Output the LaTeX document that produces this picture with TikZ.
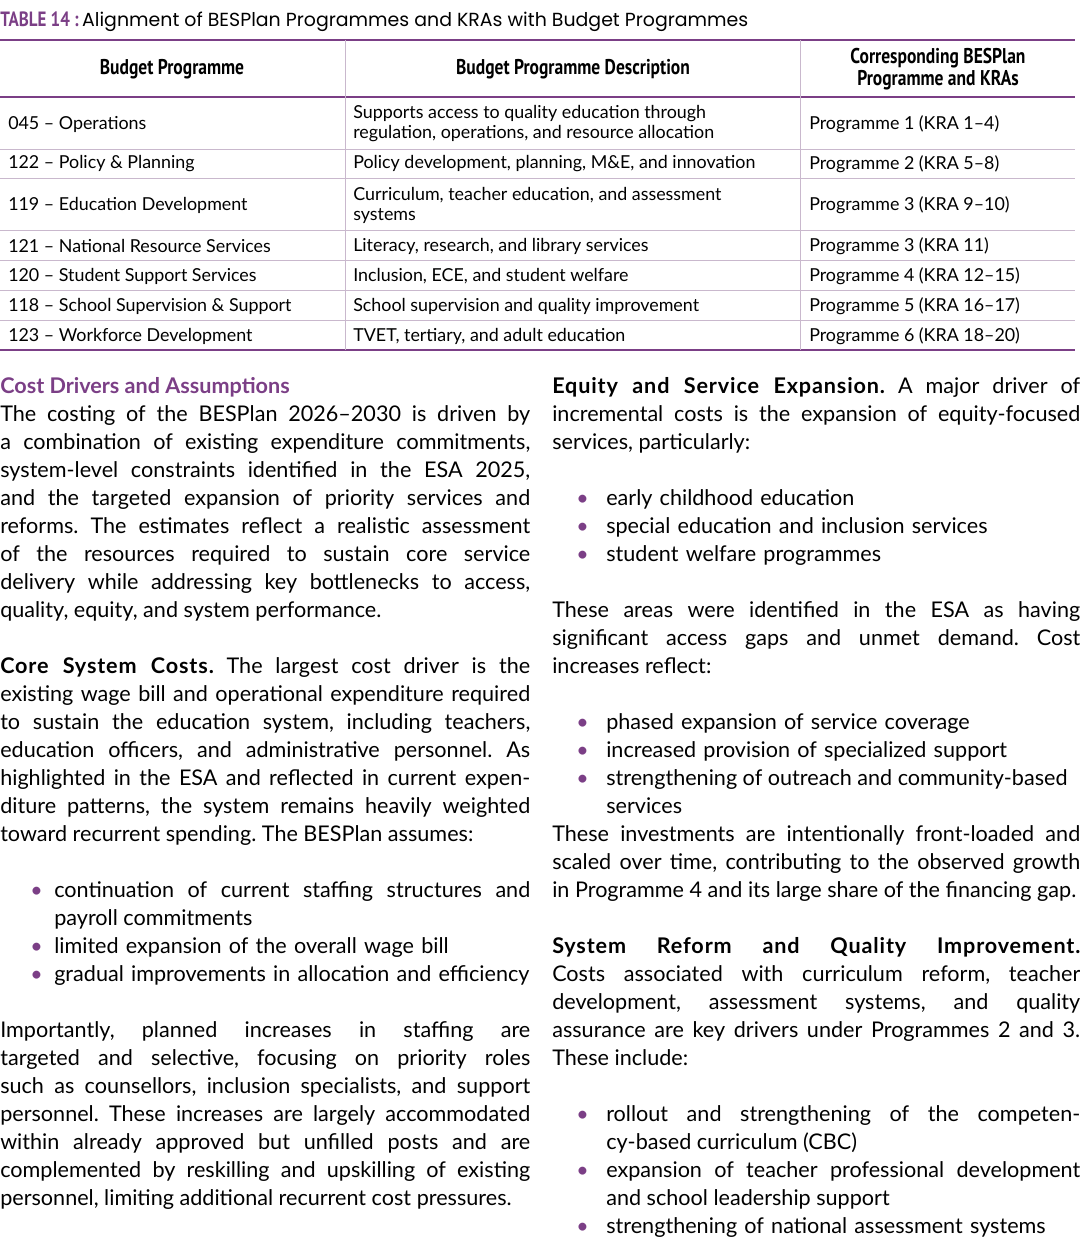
\documentclass[tikz,border=0pt]{standalone}
\usepackage{fontspec}
\setmainfont{Lato}
\newfontfamily\popp{Poppins}
\newfontfamily\cond[FakeStretch=0.82]{PT Sans}
\newfontfamily\wideb[LetterSpace=4]{Lato}
\definecolor{purp}{HTML}{7B3F86}
\definecolor{rule}{HTML}{C9B8CD}
\frenchspacing
\begin{document}
\begin{tikzpicture}[x=0.75pt,y=-0.75pt,
  cell/.style={anchor=west,inner sep=0pt,font=\frenchspacing\fontsize{13.4}{15}\selectfont,align=left},
  hcell/.style={anchor=center,inner sep=0pt,font=\cond\bfseries\fontsize{16}{17}\selectfont,align=center},
  para/.style={anchor=north west,inner sep=0pt,align=justify,font=\frenchspacing\fontsize{16.2}{21}\selectfont},
  bul/.style={anchor=north west,inner sep=0pt,font=\fontsize{16}{21}\selectfont,text=purp},
  ]
\useasboundingbox (0,0) rectangle (1080,1248);
\node[anchor=west,inner sep=0pt] (title) at (0,22) {{\cond\bfseries\fontsize{15.5}{16}\selectfont\color{purp}TABLE 14 :} {\popp\fontsize{14.2}{16}\selectfont Alignment of BESPlan Programmes and KRAs with Budget Programmes}};
% table rules
\draw[purp,line width=2.2pt] (0,40) -- (1075,40);
\draw[purp,line width=1.2pt] (0,97) -- (1075,97);
\foreach \y in {149,178,230,260,290,320}{\draw[rule,line width=0.7pt] (0,\y) -- (1075,\y);}
\draw[purp,line width=2.2pt] (0,350) -- (1075,350);
\draw[rule,line width=0.7pt] (345,40) -- (345,350);
\draw[rule,line width=0.7pt] (800,40) -- (800,350);
\node[hcell] (h1) at (172,69) {Budget Programme};
\node[hcell] (h2) at (573,69) {Budget Programme Description};
\node[hcell] (h3) at (938,69) {Corresponding BESPlan\\Programme and KRAs};
\node[cell] (a1) at (8,124) {045 – Operations};
\node[cell] (b1) at (353,124) {Supports access to quality education through\\regulation, operations, and resource allocation};
\node[cell] (c1) at (809,124) {Programme 1 (KRA 1–4)};
\node[cell] (a2) at (8,164) {122 – Policy \& Planning};
\node[cell] (b2) at (353,164) {Policy development, planning, M\&E, and innovation};
\node[cell] (c2) at (809,164) {Programme 2 (KRA 5–8)};
\node[cell] (a3) at (8,205) {119 – Education Development};
\node[cell] (b3) at (353,205) {Curriculum, teacher education, and assessment\\systems};
\node[cell] (c3) at (809,205) {Programme 3 (KRA 9–10)};
\node[cell] (a4) at (8,246) {121 – National Resource Services};
\node[cell] (b4) at (353,246) {Literacy, research, and library services};
\node[cell] (c4) at (809,246) {Programme 3 (KRA 11)};
\node[cell] (a5) at (8,276) {120 – Student Support Services};
\node[cell] (b5) at (353,276) {Inclusion, ECE, and student welfare};
\node[cell] (c5) at (809,276) {Programme 4 (KRA 12–15)};
\node[cell] (a6) at (8,306) {118 – School Supervision \& Support};
\node[cell] (b6) at (353,306) {School supervision and quality improvement};
\node[cell] (c6) at (809,306) {Programme 5 (KRA 16–17)};
\node[cell] (a7) at (8,336) {123 – Workforce Development};
\node[cell] (b7) at (353,336) {TVET, tertiary, and adult education};
\node[cell] (c7) at (809,336) {Programme 6 (KRA 18–20)};
% left column
\node[para,text width=530*0.75pt] (p1) at (0,374) {\strut{\bfseries\color{purp}Cost Drivers and Assumptions}\newline
The costing of the BESPlan 2026–2030 is driven by\linebreak a combination of existing expenditure commitments,\linebreak system-level constraints identified in the ESA 2025,\linebreak and the targeted expansion of priority services and\linebreak reforms. The estimates reflect a realistic assessment\linebreak of the resources required to sustain core service\linebreak delivery while addressing key bottlenecks to access,\linebreak quality, equity, and system performance.};
\node[para,text width=530*0.75pt] (p2) at (0,654) {\strut{\wideb\bfseries Core System Costs.} The largest cost driver is the\linebreak existing wage bill and operational expenditure required\linebreak to sustain the education system, including teachers,\linebreak education officers, and administrative personnel. As\linebreak highlighted in the ESA and reflected in current expen-\linebreak diture patterns, the system remains heavily weighted\linebreak toward recurrent spending. The BESPlan assumes:};
\node[bul] (lb1) at (30,878) {\strut•};
\node[para,text width=476*0.75pt] (l1) at (54,878) {\strut continuation of current staffing structures and\linebreak payroll commitments};
\node[bul] (lb2) at (30,934) {\strut•};
\node[para,text width=476*0.75pt,align=left] (l2) at (54,934) {\strut limited expansion of the overall wage bill};
\node[bul] (lb3) at (30,962) {\strut•};
\node[para,text width=476*0.75pt,align=left] (l3) at (54,962) {\strut gradual improvements in allocation and efficiency};
\node[para,text width=530*0.75pt] (p3) at (0,1018) {\strut Importantly, planned increases in staffing are\linebreak targeted and selective, focusing on priority roles\linebreak such as counsellors, inclusion specialists, and support\linebreak personnel. These increases are largely accommodated\linebreak within already approved but unfilled posts and are\linebreak complemented by reskilling and upskilling of existing\linebreak personnel, limiting additional recurrent cost pressures.};
% right column
\node[para,text width=528*0.75pt] (q1) at (552,374) {\strut{\wideb\bfseries Equity and Service Expansion.} A major driver of\linebreak incremental costs is the expansion of equity-focused\linebreak services, particularly:};
\node[bul] (rb1) at (576,486) {\strut•};
\node[para,text width=474*0.75pt,align=left] (r1) at (606,486) {\strut early childhood education};
\node[bul] (rb2) at (576,514) {\strut•};
\node[para,text width=474*0.75pt,align=left] (r2) at (606,514) {\strut special education and inclusion services};
\node[bul] (rb3) at (576,542) {\strut•};
\node[para,text width=474*0.75pt,align=left] (r3) at (606,542) {\strut student welfare programmes};
\node[para,text width=528*0.75pt] (q2) at (552,598) {\strut These areas were identified in the ESA as having\linebreak significant access gaps and unmet demand. Cost\linebreak increases reflect:};
\node[bul] (rb4) at (576,710) {\strut•};
\node[para,text width=474*0.75pt,align=left] (r4) at (606,710) {\strut phased expansion of service coverage};
\node[bul] (rb5) at (576,738) {\strut•};
\node[para,text width=474*0.75pt,align=left] (r5) at (606,738) {\strut increased provision of specialized support};
\node[bul] (rb6) at (576,766) {\strut•};
\node[para,text width=474*0.75pt] (r6) at (606,766) {\strut strengthening of outreach and community-based\newline services};
\node[para,text width=528*0.75pt] (q3) at (552,822) {\strut These investments are intentionally front-loaded and\linebreak scaled over time, contributing to the observed growth\linebreak in Programme 4 and its large share of the financing gap.};
\node[para,text width=528*0.75pt] (q4) at (552,934) {\strut{\wideb\bfseries System Reform and Quality Improvement.}\linebreak Costs associated with curriculum reform, teacher\linebreak development, assessment systems, and quality\linebreak assurance are key drivers under Programmes 2 and 3.\linebreak These include:};
\node[bul] (rb7) at (576,1102) {\strut•};
\node[para,text width=474*0.75pt] (r7) at (606,1102) {\strut rollout and strengthening of the competen-\linebreak cy-based curriculum (CBC)};
\node[bul] (rb8) at (576,1158) {\strut•};
\node[para,text width=474*0.75pt] (r8) at (606,1158) {\strut expansion of teacher professional development\linebreak and school leadership support};
\node[bul] (rb9) at (576,1214) {\strut•};
\node[para,text width=474*0.75pt,align=left] (r9) at (606,1214) {\strut strengthening of national assessment systems};
\end{tikzpicture}
\end{document}
